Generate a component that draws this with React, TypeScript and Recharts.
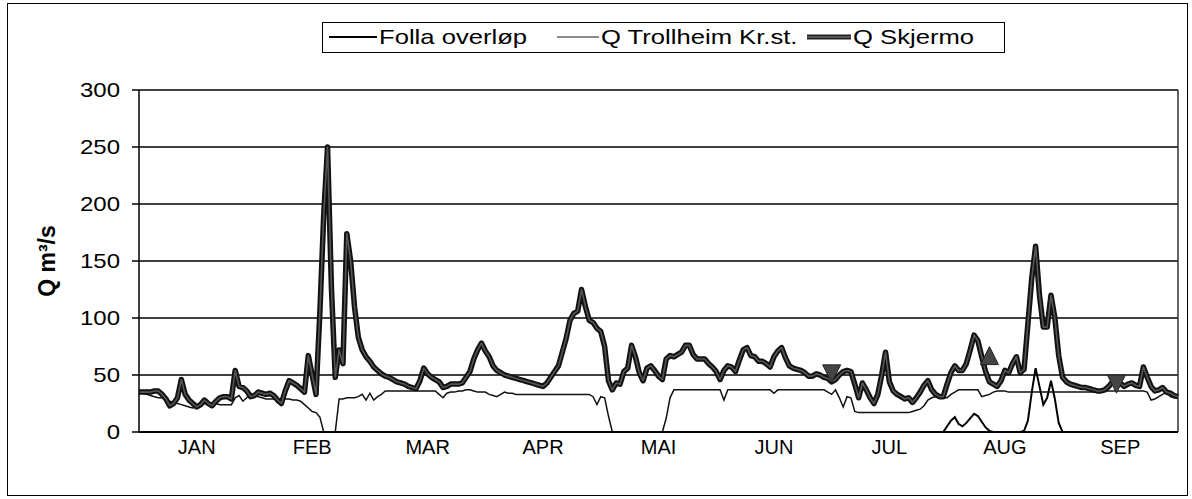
import { LineChart, Line, XAxis, YAxis, CartesianGrid, Legend, ReferenceLine, ReferenceDot } from 'recharts'

// daily discharge, day 0 = start of JAN, 30 days per month on the axis
const skjermo = [
  35, 35, 35, 35, 36, 36, 33, 29, 23, 25,
  30, 46, 33, 28, 25, 22, 24, 28, 25, 23,
  27, 30, 31, 31, 29, 54, 40, 39, 36, 31,
  32, 35, 34, 33, 34, 32, 28, 25, 36, 45,
  43, 41, 38, 35, 67, 50, 33, 105, 190, 250,
  127, 48, 72, 60, 174, 150, 110, 83, 72, 66,
  62, 57, 54, 51, 49, 48, 46, 44, 43, 42,
  40, 39, 38, 45, 56, 51, 48, 46, 44, 39,
  40, 42, 42, 42, 43, 48, 53, 64, 72, 78,
  71, 66, 58, 54, 52, 50, 49, 48, 47, 46,
  45, 44, 43, 42, 41, 40, 43, 48, 53, 58,
  70, 82, 98, 104, 106, 125, 110, 98, 96, 91,
  88, 75, 45, 37, 43, 42, 53, 56, 76, 66,
  52, 45, 56, 58, 54, 49, 46, 64, 67, 66,
  68, 70, 76, 76, 68, 64, 64, 64, 60, 57,
  53, 46, 54, 58, 57, 53, 63, 72, 74, 67,
  66, 62, 62, 60, 57, 66, 71, 74, 65, 58,
  56, 55, 54, 52, 49, 49, 51, 50, 48, 47,
  44, 46, 50, 53, 54, 53, 42, 30, 43, 37,
  30, 25, 33, 50, 70, 44, 36, 33, 31, 29,
  30, 26, 30, 35, 41, 45, 37, 33, 31, 31,
  42, 52, 58, 54, 54, 60, 72, 85, 80, 66,
  53, 44, 42, 40, 45, 54, 52, 60, 66, 52,
  55, 95, 135, 163, 120, 92, 92, 120, 100, 67,
  48, 44, 42, 41, 40, 39, 39, 38, 37, 36,
  36, 37, 40, 44, 45, 43, 40, 42, 43, 41,
  40, 57, 48, 40, 36, 37, 39, 35, 34, 32,
  31,
]

const trollheim = [
  34, 34, 33, 32, 31, 30, 30, 29, 27, 26,
  25, 24, 23, 22, 21, 22, 24, 25, 25, 25,
  25, 24, 24, 24, 24, 30, 32, 27, 30, 34,
  32, 31, 30, 29, 29, 29, 28, 28, 29, 29,
  28, 28, 27, 24, 21, 18, 17, 13, 0, 0,
  0, 0, 29, 29, 30, 30, 30, 31, 33, 28,
  34, 28, 31, 33, 36, 36, 36, 36, 36, 36,
  36, 36, 36, 36, 36, 36, 36, 36, 33, 30,
  34, 35, 35, 36, 36, 37, 37, 36, 35, 35,
  35, 33, 32, 31, 33, 35, 34, 34, 33, 33,
  33, 33, 33, 33, 33, 33, 33, 33, 33, 33,
  33, 33, 33, 33, 33, 33, 33, 33, 31, 24,
  31, 30, 14, 0, 0, 0, 0, 0, 0, 0,
  0, 0, 0, 0, 0, 0, 0, 12, 30, 37,
  37, 37, 37, 37, 37, 37, 37, 37, 37, 37,
  37, 37, 28, 37, 37, 37, 37, 37, 37, 37,
  37, 37, 37, 37, 37, 34, 37, 37, 37, 37,
  37, 37, 37, 37, 37, 37, 37, 37, 37, 35,
  33, 37, 30, 22, 31, 30, 18, 17, 17, 17,
  17, 17, 17, 17, 17, 17, 17, 17, 17, 17,
  17, 18, 19, 20, 23, 28, 30, 31, 31, 30,
  30, 33, 35, 37, 37, 37, 37, 37, 37, 31,
  32, 33, 35, 36, 36, 36, 35, 35, 35, 35,
  35, 35, 35, 35, 35, 35, 35, 35, 35, 35,
  35, 35, 35, 35, 35, 35, 35, 35, 35, 35,
  36, 36, 36, 36, 36, 36, 36, 36, 36, 36,
  36, 36, 35, 28, 29, 31, 33, 35, 31, 30,
  30,
]

// Folla overløp is zero except two short spills
const follaDay = [0, 209, 210, 211, 212, 213, 214, 215, 216, 217, 218, 219, 220, 221, 222, 229, 230, 231, 232, 233, 234, 235, 236, 237, 238, 239, 240, 270]
const follaQ = [0, 0, 5, 10, 13, 7, 5, 8, 12, 16, 14, 9, 4, 1, 0, 0, 1, 10, 35, 56, 40, 24, 30, 45, 29, 8, 0, 0]

const months = ['JAN', 'FEB', 'MAR', 'APR', 'MAI', 'JUN', 'JUL', 'AUG', 'SEP']
const monthEdges = [0, 30, 60, 90, 120, 150, 180, 210, 240, 270]
const monthMids = [15, 45, 75, 105, 135, 165, 195, 225, 255]
const yTicks = [0, 50, 100, 150, 200, 250, 300]

const markerDay = [180, 221, 254]
const markerQ = [51, 67, 42]
const markerDir = ['down', 'up', 'down']

const seriesNames = ['Folla overløp', 'Q Trollheim Kr.st.', 'Q Skjermo']

const rows = skjermo.map((q, day) => ({ day, skjermo: q, trollheim: trollheim[day] }))
const follaRows = follaDay.map((day, i) => ({ day, q: follaQ[i] }))

const FONT = '"Liberation Sans", Arial, sans-serif'
const STRETCH = 1.2 // the scan is wider than it is tall

function Triangle(props: any) {
  const { cx, cy, dir } = props
  const s = 9
  const pts = dir === 'up'
    ? `${cx - s},${cy + s} ${cx + s},${cy + s} ${cx},${cy - s}`
    : `${cx - s},${cy - s} ${cx + s},${cy - s} ${cx},${cy + s}`
  return <polygon points={pts} fill="#444" stroke="#222" strokeWidth={1} />
}

function YTick(props: any) {
  const { x, y, payload } = props
  return (
    <g transform={`translate(${x},${y})`}>
      <text transform={`scale(${STRETCH},1)`} textAnchor="end" dy="0.36em" fontFamily={FONT} fontSize={20} fill="#000">
        {payload.value}
      </text>
    </g>
  )
}

function LegendBox() {
  const items = [
    { left: 6, len: 48, w: 2, c: '#000' },
    { left: 234, len: 42, w: 1.3, c: '#666' },
    { left: 484, len: 44, w: 5, c: '#222' },
  ]
  return (
    <div
      style={{
        position: 'relative',
        border: '1px solid #000',
        height: 31,
        boxSizing: 'border-box',
        fontFamily: FONT,
        fontSize: 21,
        color: '#000',
        background: '#fff',
      }}
    >
      {seriesNames.map((name, i) => (
        <div key={name} style={{ position: 'absolute', left: items[i].left, top: 2, display: 'flex', alignItems: 'center', whiteSpace: 'nowrap' }}>
          <svg width={items[i].len} height={10}>
            <line x1={0} y1={5} x2={items[i].len} y2={5} stroke={items[i].c} strokeWidth={items[i].w} />
            {i === 2 && <line x1={0} y1={5} x2={items[i].len} y2={5} stroke="#666" strokeWidth={1.5} />}
          </svg>
          <span style={{ display: 'inline-block', transform: `scaleX(1.22)`, transformOrigin: 'left center', marginLeft: 2 }}>{name}</span>
        </div>
      ))}
    </div>
  )
}

function YTitle(props: any) {
  const { viewBox } = props
  const x = viewBox.x + 47
  const y = viewBox.y + viewBox.height / 2
  return (
    <text x={x} y={y} transform={`rotate(-90, ${x}, ${y})`} textAnchor="middle" dominantBaseline="central"
      fontFamily={FONT} fontSize={23} fontWeight="bold" fill="#000">
      Q m³/s
    </text>
  )
}

export default function App() {
  return (
    <div style={{ position: 'absolute', left: 0, top: 0, width: 1192, height: 499, background: '#fff' }}>
      <div style={{ position: 'absolute', left: 7, top: 3, width: 1181, height: 493, border: '1px solid #000', boxSizing: 'border-box' }} />
      <div style={{ position: 'absolute', left: 0, top: 0 }}>
        <LineChart width={1192} height={499} data={rows} margin={{ top: 90, right: 14, bottom: 0, left: 0 }}>
          <CartesianGrid horizontal vertical={false} stroke="#000" strokeWidth={1.3} />
          <XAxis
            xAxisId="days"
            dataKey="day"
            type="number"
            domain={[0, 270]}
            ticks={monthEdges}
            tick={false}
            tickSize={5}
            height={6}
            stroke="#000"
            strokeWidth={2}
          />
          <XAxis
            xAxisId="months"
            dataKey="day"
            type="number"
            domain={[0, 270]}
            ticks={monthMids}
            tickFormatter={(v: number) => months[monthMids.indexOf(v)]}
            axisLine={false}
            tickLine={false}
            tickSize={0}
            tickMargin={2}
            height={30}
            interval={0}
            tick={{ fill: '#000', fontSize: 20, fontFamily: FONT }}
          />
          <YAxis
            domain={[0, 300]}
            ticks={yTicks}
            width={139}
            tickSize={7}
            tickMargin={12}
            stroke="#000"
            strokeWidth={1.5}
            interval={0}
            tick={<YTick />}
            label={<YTitle />}
          />
          <ReferenceLine xAxisId="days" x={270} stroke="#333" strokeWidth={1.5} />
          <Legend
            content={<LegendBox />}
            wrapperStyle={{ position: 'absolute', top: 22, left: 322, width: 683, height: 31 }}
          />
          <Line
            xAxisId="days"
            data={follaRows}
            dataKey="q"
            name={seriesNames[0]}
            stroke="#000"
            strokeWidth={2}
            dot={false}
            isAnimationActive={false}
          />
          <Line
            xAxisId="days"
            dataKey="trollheim"
            name={seriesNames[1]}
            stroke="#111"
            strokeWidth={1.5}
            dot={false}
            isAnimationActive={false}
          />
          <Line
            xAxisId="days"
            dataKey="skjermo"
            name={seriesNames[2]}
            stroke="#111"
            strokeWidth={5.5}
            strokeLinejoin="round"
            dot={false}
            isAnimationActive={false}
          />
          <Line
            xAxisId="days"
            dataKey="skjermo"
            legendType="none"
            stroke="#555"
            strokeWidth={1.6}
            strokeLinejoin="round"
            dot={false}
            isAnimationActive={false}
          />
          {markerDay.map((d, i) => (
            <ReferenceDot
              key={d}
              xAxisId="days"
              x={d}
              y={markerQ[i]}
              r={9}
              shape={(p: any) => <Triangle {...p} dir={markerDir[i]} />}
            />
          ))}
        </LineChart>
      </div>
    </div>
  )
}
